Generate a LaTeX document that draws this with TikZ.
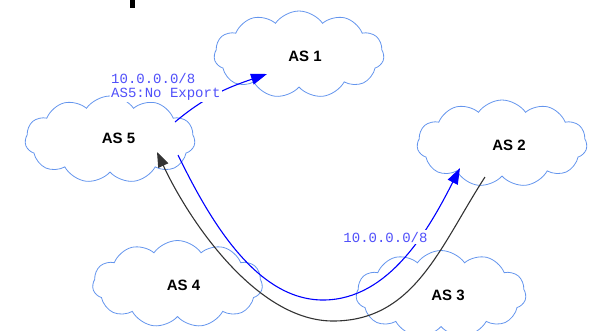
\documentclass[tikz,border=0pt]{standalone}
\usepackage{fontspec}
\setmainfont{Liberation Sans}
\newfontfamily\monofont{Liberation Mono}
\usepackage{tikz}
\usetikzlibrary{shapes.symbols,arrows.meta,positioning}

\definecolor{cloudblue}{RGB}{100,149,237}
\definecolor{routeblue}{RGB}{0,0,255}
\definecolor{tagblue}{RGB}{80,80,250}
\definecolor{pathgray}{RGB}{51,51,51}

\begin{document}
\begin{tikzpicture}[x=1pt,y=1pt]
	\tikzstyle{as cloud}=[cloud, cloud puffs=11, cloud puff arc=110, cloud ignores aspect, draw=cloudblue, line width=0.8pt, minimum width=170pt, minimum height=87pt, inner sep=0pt]
	\tikzstyle{as name}=[font=\fontsize{15}{15}\selectfont\bfseries]
	\tikzstyle{route tag}=[font=\monofont\fontsize{14}{13.4}\selectfont, text=tagblue, fill=white, inner sep=1.5pt, align=left]
	\tikzstyle{announce}=[draw=routeblue, line width=1.1pt, -{Triangle[length=16pt,width=11pt]}]
	\tikzstyle{traffic}=[draw=pathgray, line width=1.1pt, -{Triangle[length=15pt,width=11pt]}]

	\useasboundingbox (0,0) rectangle (591,-330);
	\fill (129.5,0) rectangle (134.5,-7.5);

	% autonomous systems
	\node[as cloud] (c1) at (299,-54.5) {};
	\node[as cloud] (c5) at (110,-139.5) {};
	\node[as cloud] (c2) at (502,-143.5) {};
	\node[as cloud] (c4) at (177.5,-284) {};
	\node[as cloud] (c3) at (441,-294) {};
	\node[as name] (n1) at (305,-56) {AS 1};
	\node[as name] (n5) at (118.5,-138) {AS 5};
	\node[as name] (n2) at (509,-145) {AS 2};
	\node[as name] (n4) at (183.5,-285) {AS 4};
	\node[as name] (n3) at (448,-295) {AS 3};

	% end points of the routes
	\coordinate (a5top) at (175,-122);
	\coordinate (a1in) at (267,-74);
	\coordinate (a5low) at (178,-155);
	\coordinate (blow) at (323,-300);
	\coordinate (a2in) at (460,-168);
	\coordinate (a2out) at (485,-177);
	\coordinate (glow) at (333,-321);
	\coordinate (a5in) at (157,-152);

	\path[announce] (a5top) to[out=40,in=199] (a1in);
	\path[announce] (a5low) to[out=-64,in=180,looseness=0.85] (blow) to[out=0,in=243,looseness=0.9] (a2in);
	\path[traffic] (a2out) to[out=237,in=0] (glow) to[out=180,in=-65,looseness=0.8] (a5in);

	% route tags
	\node[route tag, anchor=north west] (t1) at (109.5,-72) {10.0.0.0/8\\AS5:No Export};
	\node[route tag] (t2) at (385.5,-237) {10.0.0.0/8};
\end{tikzpicture}
\end{document}
